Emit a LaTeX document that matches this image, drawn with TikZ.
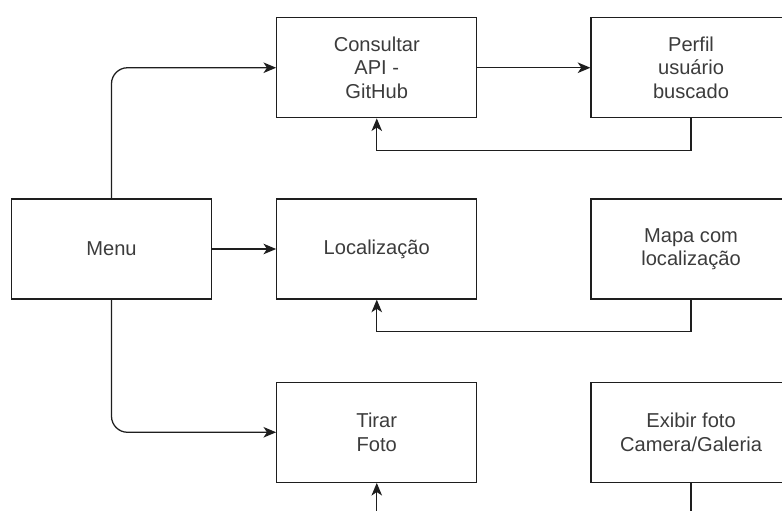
\documentclass[tikz,border=0pt]{standalone}
\usepackage{fontspec}
\setmainfont{Liberation Sans}
\usepackage{tikz}
\usetikzlibrary{arrows.meta,positioning}
\definecolor{boxline}{RGB}{30,30,30}
\definecolor{boxtext}{RGB}{60,60,60}
\tikzset{
  blk/.style={draw=boxline,fill=white,line width=0.9pt,
              minimum width=5cm,minimum height=2.5cm,
              align=center,text=boxtext,
              font=\fontsize{14.3pt}{16.6pt}\selectfont},
  arr/.style={-{Stealth[length=9pt,width=7.5pt,inset=2.5pt]},line width=0.9pt,color=boxline},
  lnk/.style={line width=0.9pt,color=boxline},
}

\begin{document}
\begin{tikzpicture}
  \useasboundingbox (0,0) rectangle (19.55,-12.75);
  \clip (0,0) rectangle (19.55,-12.75);
  \node[blk](MENU) at (2.7875,-6.225) {Menu};
  \node[blk,right=1.6cm of MENU](LOC)  {Localização};
  \node[blk,right=2.825cm of LOC](MAPA) {Mapa com\\localização};
  \node[blk,above=2cm of LOC](API)  {Consultar\\API -\\GitHub};
  \node[blk,right=2.825cm of API](PERF) {Perfil\\usuário\\buscado};
  \node[blk,below=2.05cm of LOC](FOTO) {Tirar\\Foto};
  \node[blk,right=2.825cm of FOTO](EXIB) {Exibir foto\\Camera/Galeria};

  \draw[arr,rounded corners=0.4cm](MENU.north) |- (API.west);
  \draw[arr](MENU) -- (LOC);
  \draw[arr,rounded corners=0.4cm](MENU.south) |- (FOTO.west);
  \draw[arr](API) -- (PERF);
  \draw[arr](PERF.south) -- ++(0,-0.8) -| (API.south);
  \draw[arr](MAPA.south) -- ++(0,-0.8) -| (LOC.south);
  \draw[arr](EXIB.south) -- ++(0,-0.8) -| (FOTO.south);
\end{tikzpicture}
\end{document}
